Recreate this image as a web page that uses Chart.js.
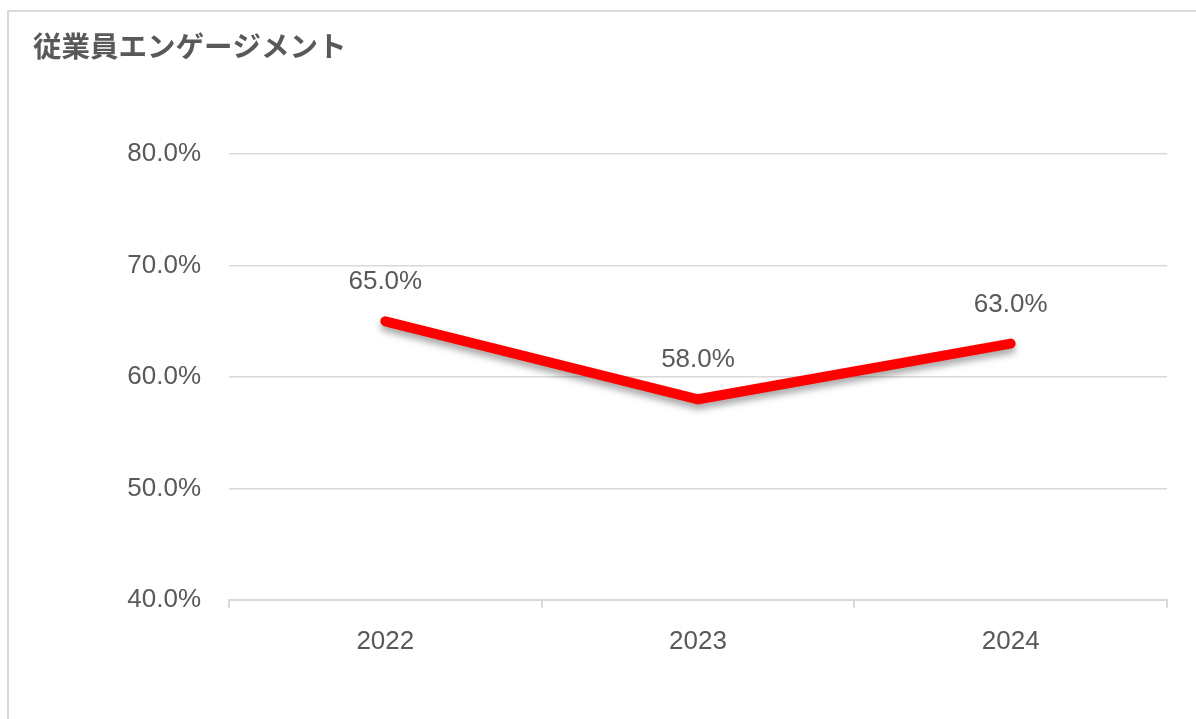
<!DOCTYPE html>
<html lang="ja">
<head>
<meta charset="utf-8">
<title>従業員エンゲージメント</title>
<script src="https://cdn.jsdelivr.net/npm/chart.js@4/dist/chart.umd.min.js"></script>
<style>
  html, body { margin: 0; padding: 0; background: #fff; overflow: hidden; }
  #frame {
    position: absolute; left: 7px; top: 10px; width: 1300px; height: 800px;
    border: 2px solid #d9d9d9; box-sizing: border-box;
  }
  #wrap { position: absolute; left: 0; top: 0; width: 1196px; height: 719px; }
</style>
</head>
<body>
<div id="frame"></div>
<div id="wrap"><canvas id="engagement"></canvas></div>
<script>
// Engagement rate by year (percent)
const years = ['2022', '2023', '2024'];
const engagement = [65.0, 58.0, 63.0];
const yTicks = [40, 50, 60, 70, 80];

const TEXT_COLOR = '#595959';
const GRID_COLOR = '#d9d9d9';
const NUM_FONT = '"Liberation Sans", Arial, sans-serif';

// Soft drop shadow under the line
const lineShadow = {
  id: 'lineShadow',
  beforeDatasetDraw(chart) {
    const ctx = chart.ctx;
    ctx.save();
    ctx.shadowColor = 'rgba(0, 0, 0, 0.35)';
    ctx.shadowBlur = 7;
    ctx.shadowOffsetX = 0;
    ctx.shadowOffsetY = 5;
  },
  afterDatasetDraw(chart) {
    chart.ctx.restore();
  }
};

// Value labels above each point
const valueLabels = {
  id: 'valueLabels',
  afterDatasetsDraw(chart) {
    const ctx = chart.ctx;
    const meta = chart.getDatasetMeta(0);
    ctx.save();
    ctx.font = '26px ' + NUM_FONT;
    ctx.fillStyle = TEXT_COLOR;
    ctx.textAlign = 'center';
    ctx.textBaseline = 'middle';
    meta.data.forEach((pt, i) => {
      ctx.fillText(engagement[i].toFixed(1) + '%', pt.x, pt.y - 39);
    });
    ctx.restore();
  }
};

new Chart(document.getElementById('engagement'), {
  type: 'line',
  data: {
    labels: years,
    datasets: [{
      label: '従業員エンゲージメント',
      data: engagement,
      borderColor: '#ff0000',
      borderWidth: 10,
      borderCapStyle: 'round',
      borderJoinStyle: 'miter',
      pointRadius: 0,
      pointHoverRadius: 0,
      tension: 0
    }]
  },
  options: {
    responsive: true,
    maintainAspectRatio: false,
    animation: false,
    layout: { padding: { left: 33, right: 29, top: 0, bottom: 44 } },
    plugins: {
      legend: { display: false },
      tooltip: { enabled: false },
      title: {
        display: true,
        text: '従業員エンゲージメント',
        align: 'start',
        color: TEXT_COLOR,
        font: { family: '"Noto Sans CJK JP", sans-serif', size: 28.5, weight: 'bold' },
        padding: { top: 29, bottom: 91 }
      }
    },
    scales: {
      x: {
        offset: true,
        grid: {
          display: true,
          offset: true,
          drawOnChartArea: false,
          drawTicks: true,
          tickLength: 8,
          color: GRID_COLOR,
          lineWidth: 2
        },
        border: { display: true, color: GRID_COLOR, width: 2 },
        ticks: {
          color: TEXT_COLOR,
          padding: 18,
          font: { family: NUM_FONT, size: 26 }
        }
      },
      y: {
        min: 40,
        max: 80,
        afterBuildTicks(scale) {
          scale.ticks = yTicks.map(v => ({ value: v }));
        },
        afterFit(scale) {
          scale.width = 196;
        },
        grid: {
          color: GRID_COLOR,
          lineWidth: 1.5,
          drawTicks: false
        },
        border: { display: false },
        ticks: {
          color: TEXT_COLOR,
          padding: 28,
          font: { family: NUM_FONT, size: 26 },
          callback: v => v.toFixed(1) + '%'
        }
      }
    }
  },
  plugins: [lineShadow, valueLabels]
});
</script>
</body>
</html>
